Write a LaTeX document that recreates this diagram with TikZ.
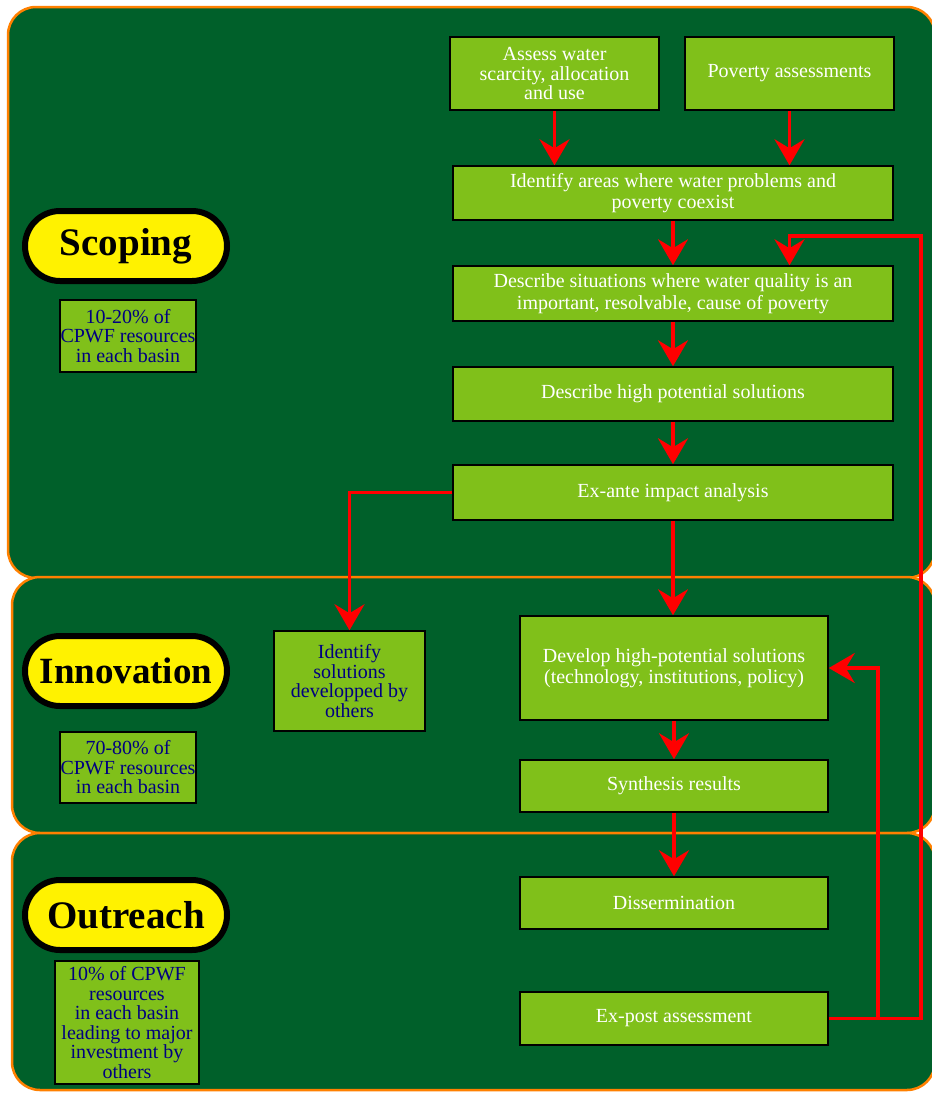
\documentclass[tikz,border=0pt]{standalone}
\usepackage{fontspec}
\setmainfont{Liberation Serif}
\usetikzlibrary{arrows.meta}
\definecolor{darkG}{RGB}{0,96,42}
\definecolor{boxG}{RGB}{128,192,26}
\definecolor{orangeC}{RGB}{255,128,0}
\definecolor{navyC}{RGB}{0,0,128}
\tikzset{
  panel/.style={draw=orangeC, line width=2.5pt, fill=darkG, rounded corners=28pt},
  flow/.style={draw=black, line width=1.5pt, fill=boxG, text=white, align=center, inner sep=0pt,
    font=\fontsize{20}{21.5}\selectfont},
  subbox/.style={draw=black, line width=1.5pt, fill=boxG, text=navyC, align=center, inner sep=0pt,
    font=\fontsize{20}{19.5}\selectfont},
  pill/.style={draw=black, line width=6pt, fill=yellow, rounded corners=35pt, inner sep=0pt,
    minimum width=202pt, minimum height=70pt, font=\bfseries\fontsize{39}{40}\selectfont},
  arr/.style={draw=red, line width=3.5pt, line join=miter, -{Stealth[length=26pt,width=30pt,inset=9pt]}},
}
\begin{document}
\begin{tikzpicture}[x=1pt,y=-1pt]
\useasboundingbox (0,0) rectangle (932,1093);
\fill[white] (0,0) rectangle (932,1093);
% panels
\path[panel] (8,7) rectangle (935,578);
\path[panel] (12,577) rectangle (935,833);
\path[panel] (12,833) rectangle (935,1090);
% phase labels
\node[pill] (scoping) at (126,246) {Scoping};
\node[pill, font=\bfseries\fontsize{37}{38}\selectfont] (innovation) at (126,671) {Innovation};
\node[pill] (outreach) at (126,915) {Outreach};
% resource boxes
\node[subbox, minimum width=136pt, minimum height=72pt] (s1) at (128,336) {10-20\% of\\CPWF resources\\in each basin};
\node[subbox, minimum width=136pt, minimum height=71pt] (s2) at (128,767.5) {70-80\% of\\CPWF resources\\in each basin};
\node[subbox, minimum width=144pt, minimum height=123pt] (s3) at (127,1022.5) {10\% of CPWF\\resources\\in each basin\\leading to major\\investment by\\others};
% flow boxes
\node[flow, font=\fontsize{20}{19.5}\selectfont, minimum width=209pt, minimum height=73pt] (b1) at (554.5,73.5) {Assess water\\scarcity, allocation\\and use};
\node[flow, minimum width=209pt, minimum height=73pt] (b2) at (789.5,73.5) {Poverty assessments};
\node[flow, minimum width=440pt, minimum height=54pt] (b3) at (673,193) {Identify areas where water problems and\\poverty coexist};
\node[flow, minimum width=440pt, minimum height=55pt] (b4) at (673,293.5) {Describe situations where water quality is an\\important, resolvable, cause of poverty};
\node[flow, minimum width=440pt, minimum height=54pt] (b5) at (673,394) {Describe high potential solutions};
\node[flow, minimum width=440pt, minimum height=55pt] (b6) at (673,492.5) {Ex-ante impact analysis};
\node[subbox, minimum width=151pt, minimum height=100pt] (b7) at (349.5,681) {Identify\\solutions\\developped by\\others};
\node[flow, minimum width=308pt, minimum height=104pt] (b8) at (674,668) {Develop high-potential solutions\\ (technology, institutions, policy)};
\node[flow, minimum width=308pt, minimum height=52pt] (b9) at (674,786) {Synthesis results};
\node[flow, minimum width=308pt, minimum height=52pt] (b10) at (674,903) {Dissermination};
\node[flow, minimum width=308pt, minimum height=53pt] (b11) at (674,1018.5) {Ex-post assessment};
% connectors
\coordinate (r1) at (921,236);
\coordinate (r2) at (878,668);
\draw[arr] (b1.south) -- (b1.south |- b3.north);
\draw[arr] (b2.south) -- (b2.south |- b3.north);
\draw[arr] (b3.south) -- (b3.south |- b4.north);
\draw[arr] (b4.south) -- (b4.south |- b5.north);
\draw[arr] (b5.south) -- (b5.south |- b6.north);
\draw[arr] (b6.west) -| (b7.north);
\draw[arr] (b6.south) -- (b6.south |- b8.north);
\draw[arr] (b8.south) -- (b8.south |- b9.north);
\draw[arr] (b9.south) -- (b9.south |- b10.north);
\draw[arr] (b11.east) -| (r1) -| (b2.south |- b4.north);
\draw[arr] (b11.east) -| (r2) -- (b8.east);
\end{tikzpicture}
\end{document}
